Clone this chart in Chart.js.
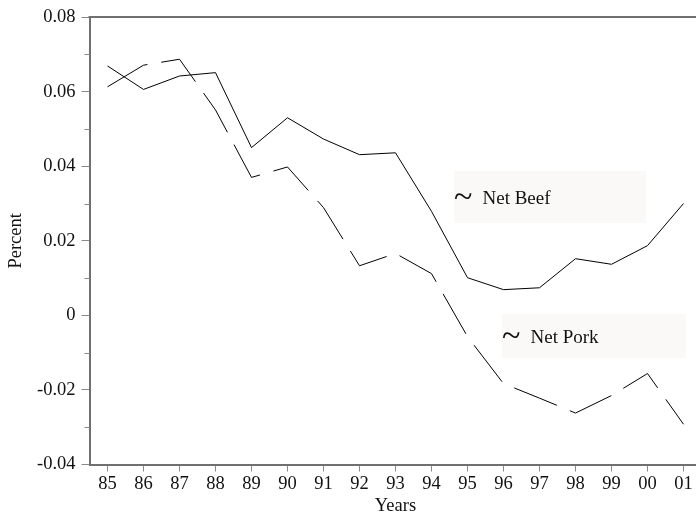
<!DOCTYPE html>
<html>
<head>
<meta charset="utf-8">
<script src="https://cdn.jsdelivr.net/npm/chart.js"></script>
<style>
  html, body { margin:0; padding:0; background:#fff; overflow:hidden; }
  #wrap { width:696px; height:514px; overflow:hidden; }
</style>
</head>
<body>
<div id="wrap"><canvas id="chart" width="720" height="514"></canvas></div>
<script>
// ---- data ----
const years = ['85','86','87','88','89','90','91','92','93','94','95','96','97','98','99','00','01'];
const netBeef = [0.0669, 0.0606, 0.0642, 0.0651, 0.0450, 0.0530, 0.0473, 0.0431, 0.0436, 0.0279, 0.0101, 0.0069, 0.0074, 0.0152, 0.0137, 0.0187, 0.0300];
const netPork = [0.0613, 0.0671, 0.0687, 0.0551, 0.0370, 0.0398, 0.0289, 0.0133, 0.0166, 0.0112, -0.0057, -0.0183, -0.0222, -0.0262, -0.0215, -0.0156, -0.0292];
const yMajorTicks = [-0.04, -0.02, 0, 0.02, 0.04, 0.06, 0.08];
const yMinorTicks = [-0.03, -0.01, 0.01, 0.03, 0.05, 0.07];
const seriesLabels = ['Net Beef', 'Net Pork'];

const FONT = "'Liberation Serif', 'Times New Roman', serif";
const AXIS = '#707070';

// top frame line, minor y ticks, and the two label boxes
const decorPlugin = {
    id: 'decor',
    afterDraw(chart) {
        const { ctx, chartArea: a } = chart;
        const y = chart.scales.y;
        ctx.save();
        ctx.strokeStyle = AXIS;
        ctx.lineWidth = 2;
        ctx.beginPath();
        ctx.moveTo(a.left - 1, a.top);
        ctx.lineTo(a.right, a.top);
        ctx.stroke();

        ctx.lineWidth = 1;
        ctx.strokeStyle = '#8a8a8a';
        yMinorTicks.forEach(v => {
            const py = Math.round(y.getPixelForValue(v)) + 0.5;
            ctx.beginPath();
            ctx.moveTo(a.left - 5, py);
            ctx.lineTo(a.left, py);
            ctx.stroke();
        });

        // label boxes
        const boxes = [
            { x: 454, y: 171, w: 192, h: 52, text: seriesLabels[0] },
            { x: 502, y: 314, w: 184, h: 44, text: seriesLabels[1] },
        ];
        boxes.forEach(b => {
            ctx.fillStyle = '#faf9f7';
            ctx.fillRect(b.x, b.y, b.w, b.h);
            ctx.fillStyle = '#111';
            ctx.textBaseline = 'alphabetic';
            ctx.textAlign = 'left';
            const base = b.y + b.h / 2 + 6.5;
            ctx.font = `34px ${FONT}`;
            ctx.fillText('~', b.x, base + 3);
            ctx.font = `19px ${FONT}`;
            ctx.fillText(b.text, b.x + 28.5, base);
        });
        ctx.restore();
    }
};

new Chart(document.getElementById('chart'), {
    type: 'line',
    data: {
        labels: years,
        datasets: [
            {
                label: seriesLabels[0],
                data: netBeef,
                borderColor: '#000',
                borderWidth: 1,
                pointRadius: 0,
                tension: 0,
            },
            {
                label: seriesLabels[1],
                data: netPork,
                borderColor: '#000',
                borderWidth: 1,
                borderDash: [46, 14],
                pointRadius: 0,
                tension: 0,
            }
        ]
    },
    options: {
        responsive: false,
        animation: false,
        layout: { padding: { top: 15, right: 18.5, left: 0, bottom: 0 } },
        plugins: { legend: { display: false }, tooltip: { enabled: false } },
        scales: {
            x: {
                offset: true,
                afterFit: s => { s.height = 49.5; },
                grid: { offset: false, drawOnChartArea: false, drawTicks: true, tickLength: 7, tickColor: '#8a8a8a', tickWidth: 1 },
                border: { display: true, color: AXIS, width: 2 },
                ticks: { color: '#111', font: { family: FONT, size: 18.5 }, padding: 2, maxRotation: 0, autoSkip: false },
                title: { display: true, text: 'Years', color: '#111', font: { family: FONT, size: 18.5, lineHeight: 1 }, padding: { top: 0, bottom: -1 } },
            },
            y: {
                min: -0.04,
                max: 0.08,
                afterFit: s => { s.width = 89.5; },
                afterBuildTicks: s => { s.ticks = yMajorTicks.map(v => ({ value: v })); },
                grid: { drawOnChartArea: false, drawTicks: true, tickLength: 8, tickColor: '#8a8a8a', tickWidth: 1 },
                border: { display: true, color: AXIS, width: 2 },
                ticks: {
                    color: '#111',
                    font: { family: FONT, size: 18.5 },
                    padding: 6,
                    callback: v => (Math.abs(v) < 1e-9 ? '0' : v.toFixed(2)),
                },
                title: { display: true, text: 'Percent', color: '#111', font: { family: FONT, size: 18.5, lineHeight: 1 }, padding: { top: 7, bottom: 0 } },
            }
        }
    },
    plugins: [decorPlugin]
});
</script>
</body>
</html>
